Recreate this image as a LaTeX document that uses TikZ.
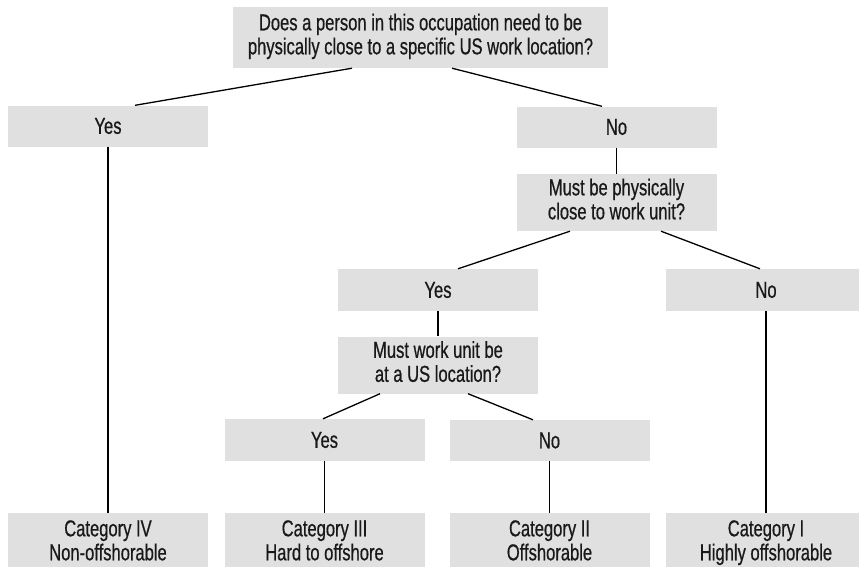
\documentclass[tikz,border=0pt]{standalone}
\usepackage{fontspec}
\setmainfont{Liberation Sans}[FakeStretch=0.72,FakeBold=0.6]
\definecolor{kastengrau}{RGB}{224,224,224}
\begin{document}
\begin{tikzpicture}[x=1pt,y=-1pt,
    kasten/.style={fill=kastengrau,minimum width=200pt,minimum height=41pt,
      inner sep=0pt,align=center,text=black!90,font=\fontsize{23}{24}\selectfont},
    frage/.style={kasten,minimum height=57pt},
    ende/.style={kasten,minimum height=61pt},
    linie/.style={line width=1.3pt}]
    \useasboundingbox (0,0) rectangle (859,566);
    % Fragen
    \node[kasten,minimum width=375pt,minimum height=61pt] (q1) at (420.5,37.5)
      {Does a person in this occupation need to be\strut\\physically close to a specific US work location?\strut};
    \node[frage] (q2) at (616.5,202.5) {Must be physically\strut\\close to work unit?\strut};
    \node[frage] (q3) at (438,365) {Must work unit be\strut\\at a US location?\strut};
    % Antworten
    \node[kasten] (ja1) at (108,126) {Yes};
    \node[kasten] (nein1) at (616.5,127) {No};
    \node[kasten,minimum height=42pt] (ja2) at (438,290) {Yes};
    \node[kasten,minimum height=42pt] (nein2) at (766,290) {No};
    \node[kasten,minimum height=42pt] (ja3) at (324.5,440) {Yes};
    \node[kasten] (nein3) at (549.5,440.5) {No};
    % Kategorien
    \node[ende] (k4) at (108,543.5) {Category IV\strut\\Non-offshorable\strut};
    \node[ende] (k3) at (324.5,543.5) {Category III\strut\\Hard to offshore\strut};
    \node[ende] (k2) at (549.5,543.5) {Category II\strut\\Offshorable\strut};
    \node[ende] (k1) at (766,543.5) {Category I\strut\\Highly offshorable\strut};
    % Verbindungslinien
    \draw[linie] ([xshift=-68.5pt]q1.south) -- ([xshift=27pt]ja1.north);
    \draw[linie] ([xshift=31.5pt]q1.south) -- ([xshift=-14.5pt]nein1.north);
    \draw[linie] ([xshift=-46.5pt]q2.south) -- ([xshift=20pt]ja2.north);
    \draw[linie] ([xshift=44.5pt]q2.south) -- ([xshift=-6pt]nein2.north);
    \draw[linie] ([xshift=-58pt]q3.south) -- ([xshift=-1.5pt]ja3.north);
    \draw[linie] ([xshift=30pt]q3.south) -- ([xshift=-16.5pt]nein3.north);
    \draw[linie] (nein1) -- (q2);
    \draw[linie] (ja2) -- (q3);
    \foreach \oben/\unten in {ja1/k4,ja3/k3,nein3/k2,nein2/k1}
    \draw[linie] (\oben.south) -- (\unten.north);
  \end{tikzpicture}
\end{document}
